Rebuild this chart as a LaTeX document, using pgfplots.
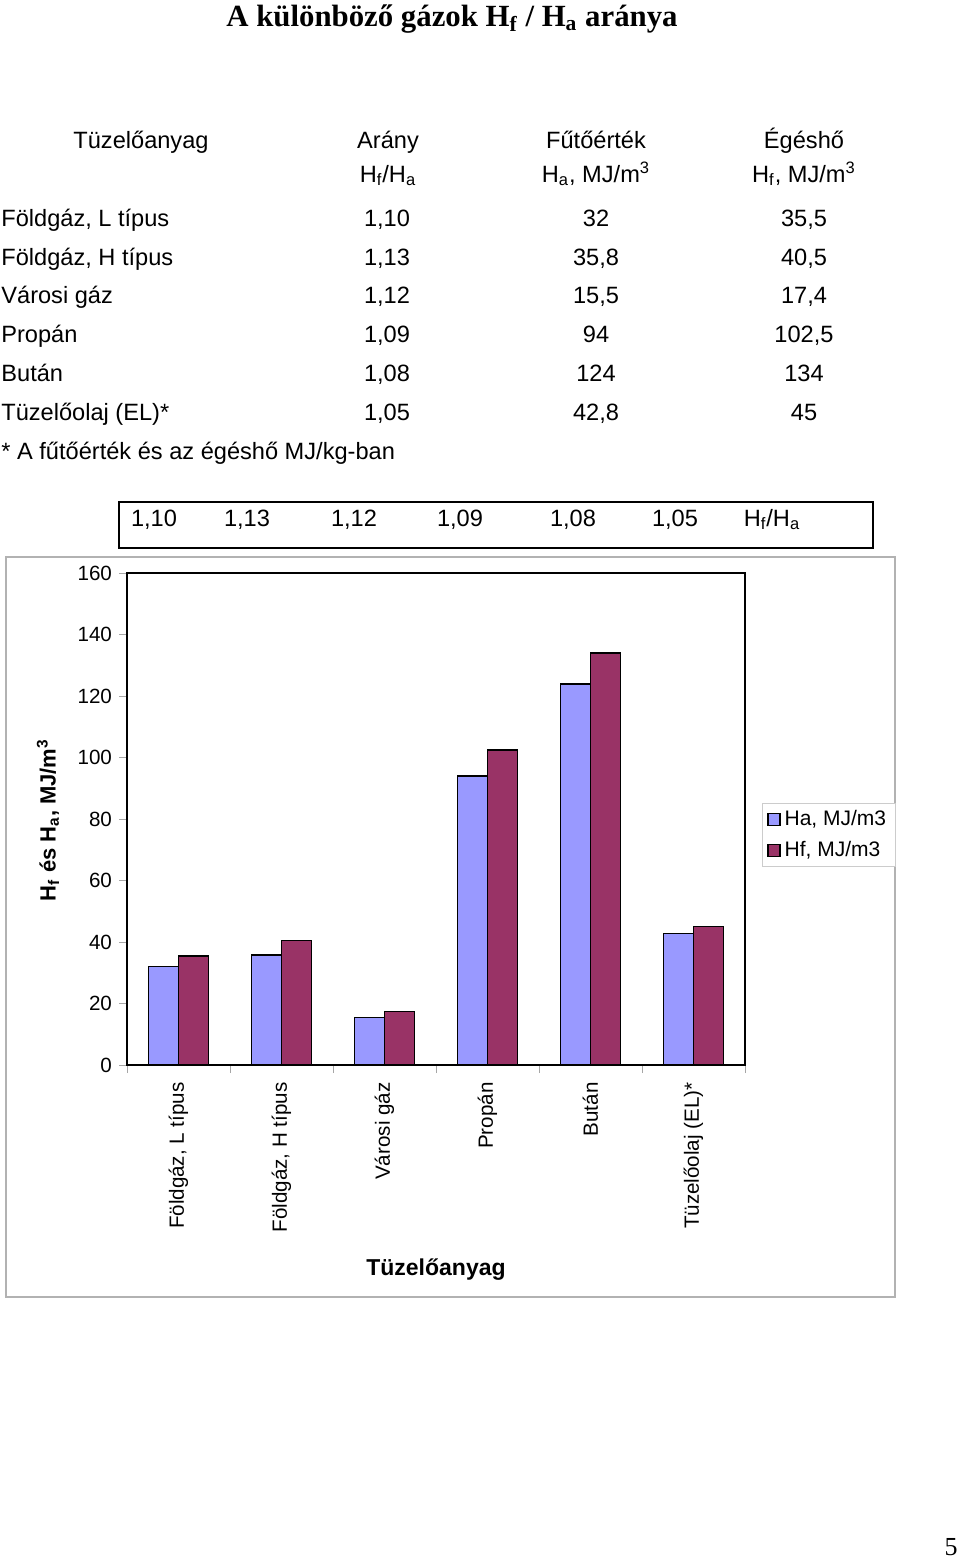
\documentclass[border=0pt]{standalone}
\usepackage{fontspec}
\setmainfont{Liberation Sans}
\newfontfamily\timesfont{Liberation Serif}
\usepackage{pgfplots}
\pgfplotsset{compat=1.18}
\definecolor{haBlue}{HTML}{9999FF}
\definecolor{hfRed}{HTML}{993366}

% one table row: baseline y, name, ratio, Ha, Hf
\newcommand\trow[5]{%
  \node[anchor=base west,inner sep=0] at (1,#1) {#2};
  \node[anchor=base,inner sep=0] at (387,#1) {#3};
  \node[anchor=base,inner sep=0] at (596,#1) {#4};
  \node[anchor=base,inner sep=0] at (804,#1) {#5};}

\begin{document}
\begin{tikzpicture}
\begin{scope}[x=0.5pt,y=-0.5pt]
\path (0,0) rectangle (960,1558);

\node[anchor=base,inner sep=0,font=\timesfont\bfseries\fontsize{15.4}{18}\selectfont] at (452,26)
  {A különböző gázok H\textsubscript{f} / H\textsubscript{a} aránya};

\begin{scope}[font=\fontsize{11.8}{14}\selectfont]
\node[anchor=base,inner sep=0] at (141,148) {Tüzelőanyag};
\node[anchor=base,inner sep=0] at (388,148) {Arány};
\node[anchor=base,inner sep=0] at (388,182) {H\textsubscript{f}/H\textsubscript{a}};
\node[anchor=base,inner sep=0] at (596,148) {Fűtőérték};
\node[anchor=base,inner sep=0] at (596,182) {H\textsubscript{a}, MJ/m\textsuperscript{3}};
\node[anchor=base,inner sep=0] at (804,148) {Égéshő};
\node[anchor=base,inner sep=0] at (804,182) {H\textsubscript{f}, MJ/m\textsuperscript{3}};

\trow{226}{Földgáz, L típus}{1,10}{32}{35,5}
\trow{265}{Földgáz, H típus}{1,13}{35,8}{40,5}
\trow{303}{Városi gáz}{1,12}{15,5}{17,4}
\trow{342}{Propán}{1,09}{94}{102,5}
\trow{381}{Bután}{1,08}{124}{134}
\trow{420}{Tüzelőolaj (EL)*}{1,05}{42,8}{45}
\node[anchor=base west,inner sep=0] at (1,459) {* A fűtőérték és az égéshő MJ/kg-ban};

% ratio strip above the chart
\draw[line width=0.8pt] (119,502) rectangle (873,548);
\foreach \x/\v in {154/{1,10},247/{1,13},354/{1,12},460/{1,09},573/{1,08},675/{1,05}}
  \node[anchor=base,inner sep=0] at (\x,526) {\v};
\node[anchor=base,inner sep=0] at (772,526) {H\textsubscript{f}/H\textsubscript{a}};
\end{scope}

% chart area
\draw[gray!60,line width=0.6pt] (6,557) rectangle (895,1297);
\node[rotate=90,font=\bfseries\fontsize{11}{13}\selectfont] at (48,820)
  {H\textsubscript{f} és H\textsubscript{a}, MJ/m\textsuperscript{3}};
\node[font=\bfseries\fontsize{11.5}{14}\selectfont] at (436,1270) {Tüzelőanyag};

\node[anchor=base,inner sep=0,font=\timesfont\fontsize{13}{15}\selectfont] at (951,1555) {5};
\end{scope}

\begin{axis}[
  at={(63.5pt,-532.5pt)}, anchor=south west,
  width=309pt, height=246pt, scale only axis,
  xmin=-0.5, xmax=5.5, ymin=0, ymax=160,
  ybar=0pt, bar width=15pt,
  xtick={0,...,5},
  xticklabels={{Földgáz, L típus},{Földgáz, H típus},{Városi gáz},{Propán},{Bután},{Tüzelőolaj (EL)*}},
  major x tick style={draw=none},
  minor xtick={-0.5,0.5,...,5.5},
  ytick={0,20,...,160},
  tick align=outside, tick pos=left,
  major tick length=4pt, minor tick length=4pt,
  every tick/.style={gray!70,line width=0.5pt},
  axis line style={black,line width=0.9pt},
  tick label style={font=\fontsize{10.3}{12}\selectfont},
  xticklabel style={rotate=90,anchor=east,inner xsep=4.5pt},
  /pgf/number format/assume math mode=true,
  legend style={at={(1.0275,0.5325)}, anchor=north west, draw=gray!40,
    font=\fontsize{10.5}{12}\selectfont, inner xsep=2.5pt, inner ysep=1.5pt,
    row sep=2.2pt},
  legend cell align=left,
  legend image code/.code={\draw[#1,line width=0.6pt] (0pt,-3pt) rectangle (6pt,3pt);},
]
\addplot[fill=haBlue, draw=black, line width=0.8pt] coordinates
  {(0,32) (1,35.8) (2,15.5) (3,94) (4,124) (5,42.8)};
\addlegendentry{Ha, MJ/m3}
\addplot[fill=hfRed, draw=black, line width=0.8pt] coordinates
  {(0,35.5) (1,40.5) (2,17.4) (3,102.5) (4,134) (5,45)};
\addlegendentry{Hf, MJ/m3}
\end{axis}
\end{tikzpicture}
\end{document}
